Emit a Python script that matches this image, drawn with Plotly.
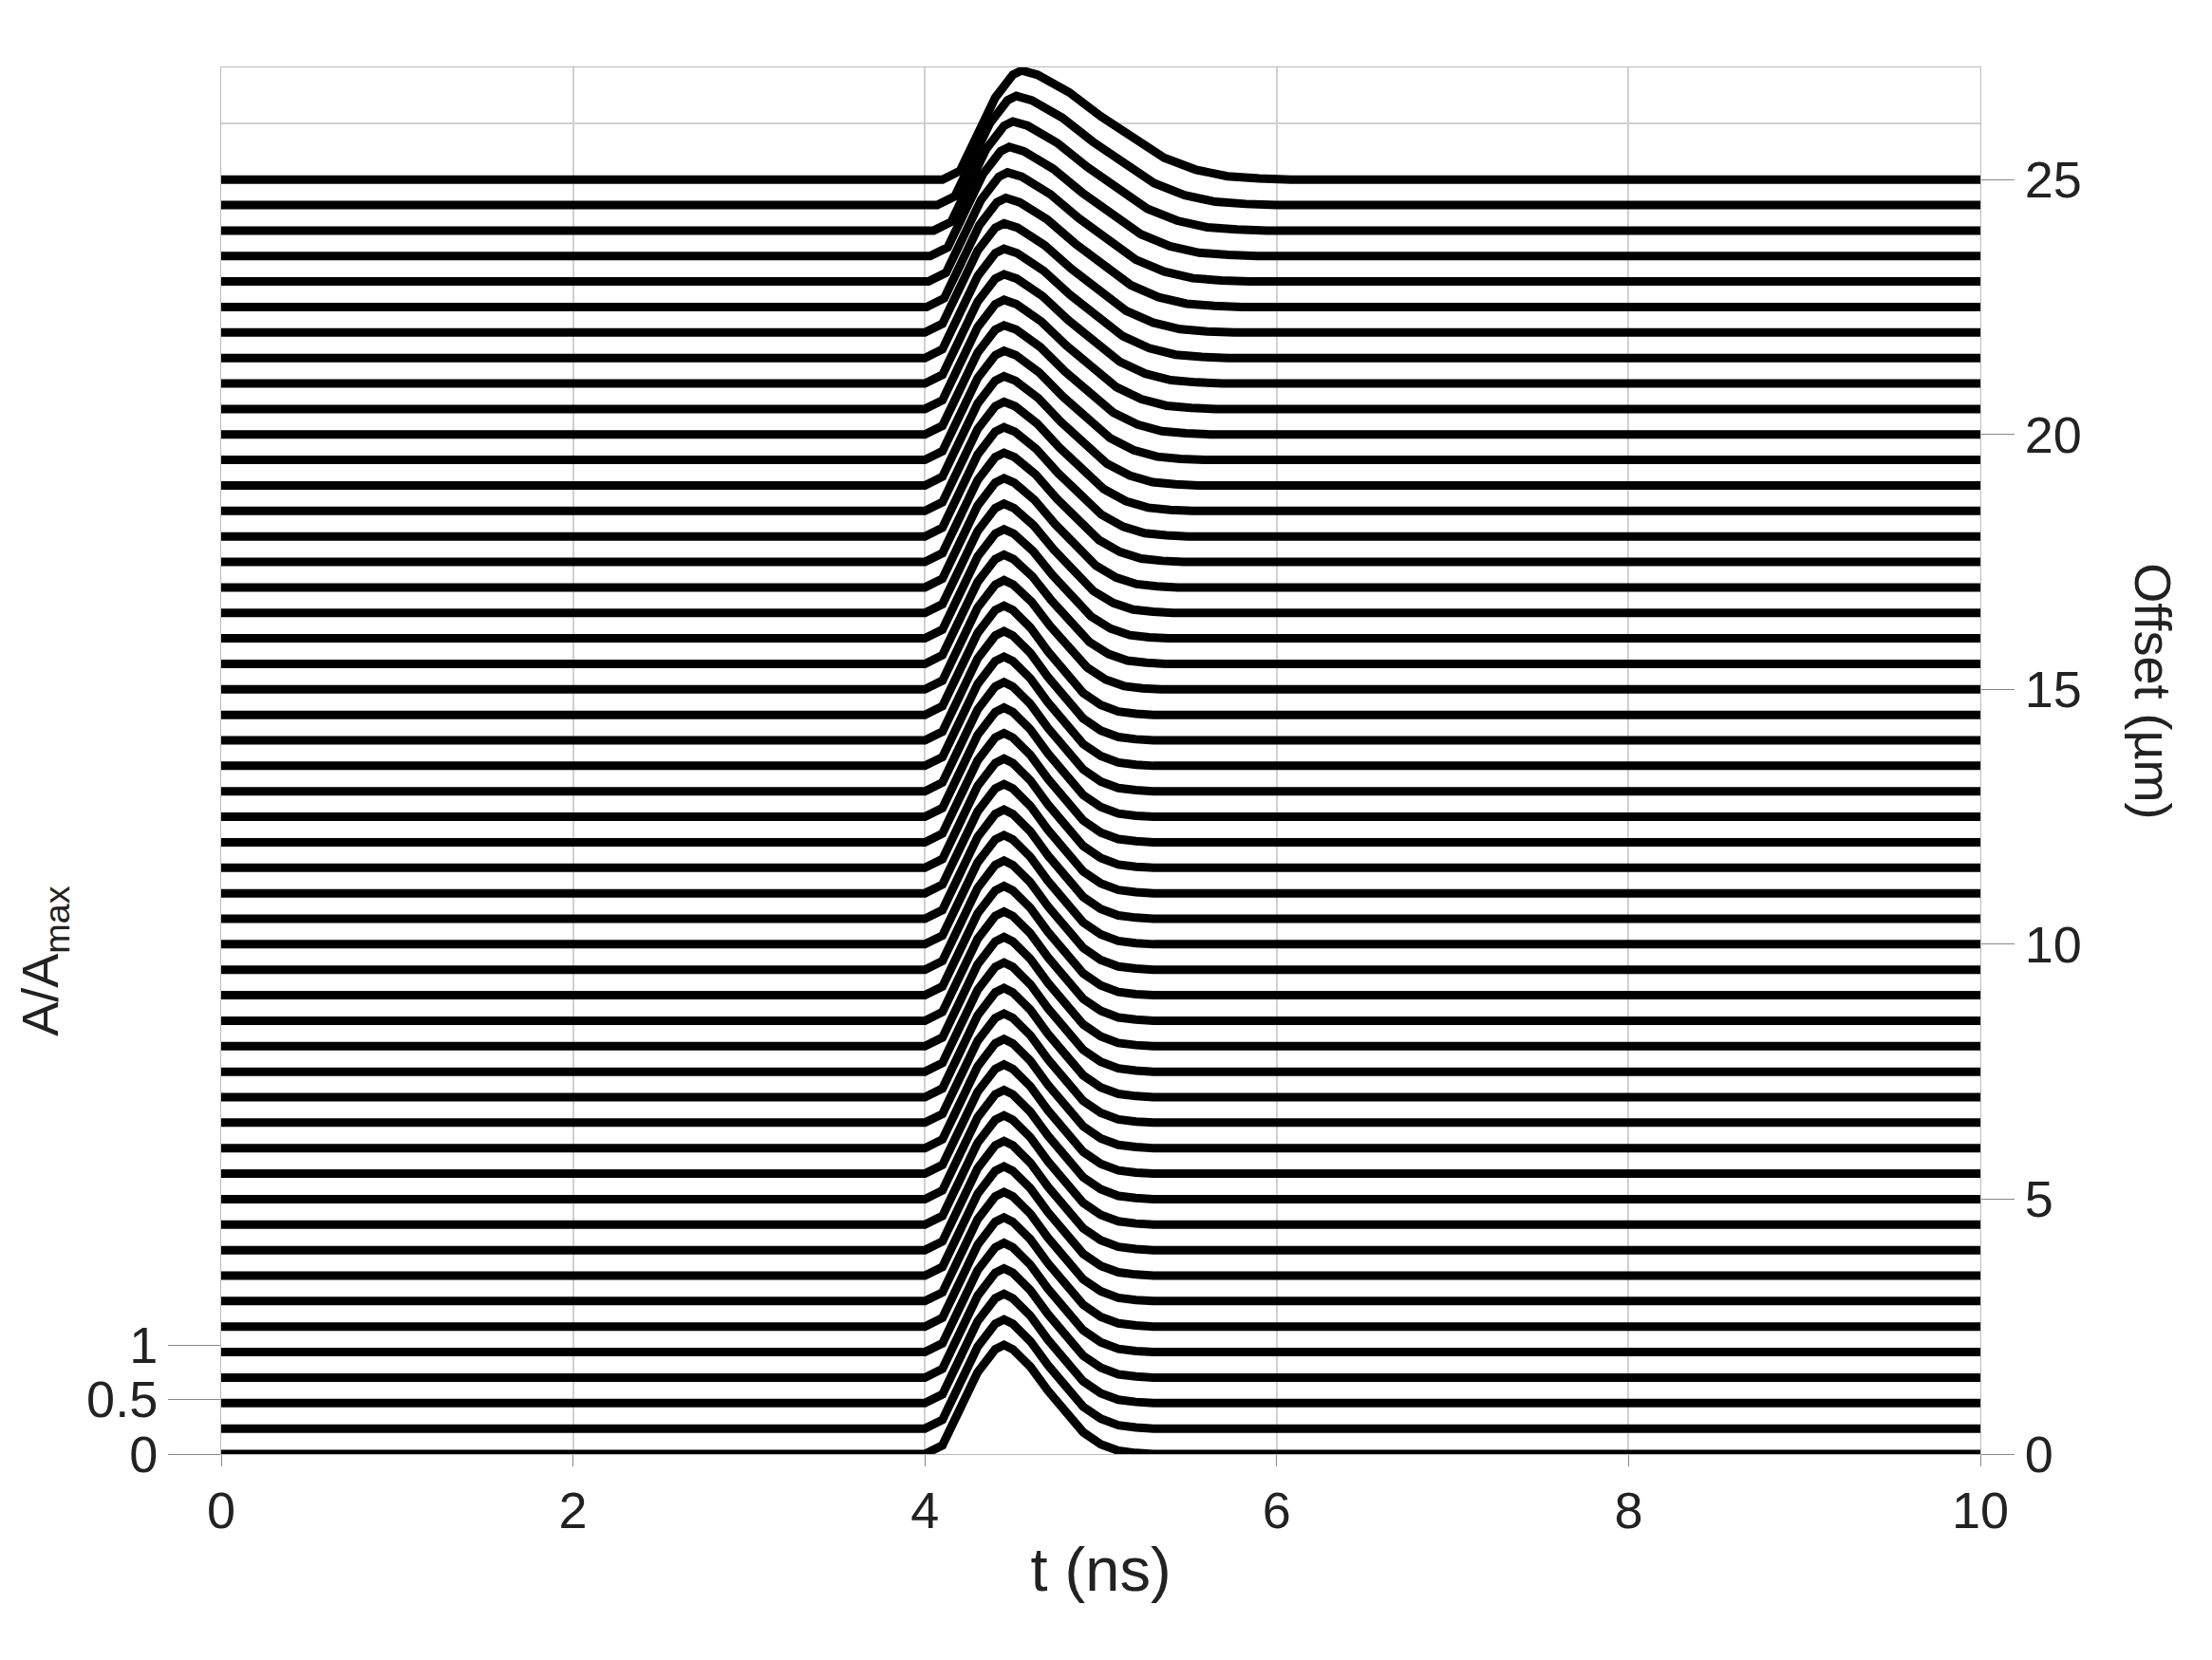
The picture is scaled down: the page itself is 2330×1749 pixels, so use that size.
import plotly.graph_objects as go

# typical pulse shape (t in ns, normalized amplitude)
pulse_t = [4.0, 4.1, 4.2, 4.3, 4.4, 4.45, 4.5, 4.6, 4.7, 4.8, 4.9, 5.0, 5.1, 5.2, 5.3]
pulse_a = [0.0, 0.08, 0.4, 0.75, 0.96, 1.0, 0.96, 0.8, 0.58, 0.38, 0.2, 0.09, 0.03, 0.01, 0.0]
offsets = [i * 0.5 for i in range(51)]
# per-trace tail stretch (longer decay towards top)
tail = [1.0]*30 + [1.05, 1.08, 1.1, 1.13, 1.16, 1.2, 1.23, 1.26, 1.3, 1.34, 1.38, 1.42,
                   1.46, 1.5, 1.54, 1.58, 1.62, 1.66, 1.7, 1.74, 1.8]
peak_t = [4.45]*45 + [4.46, 4.47, 4.48, 4.5, 4.52, 4.55]
amp_scale = 2.14  # µm per unit A/Amax
left_ticks = [0, 0.5, 1]
right_ticks = [0, 5, 10, 15, 20, 25]
x_ticks = [0, 2, 4, 6, 8, 10]

fig = go.Figure()
for off, st, pk in reversed(list(zip(offsets, tail, peak_t))):
    xs = [0.0]
    ys = [off]
    for t, a in zip(pulse_t, pulse_a):
        x = pk + (t - 4.45) * (st if t > 4.45 else 1.0)
        xs.append(x)
        ys.append(off + amp_scale * a)
    xs.append(10.0)
    ys.append(off)
    fig.add_trace(go.Scatter(x=xs, y=ys, mode="lines", fill="toself", fillcolor="white",
                             line=dict(color="black", width=9), showlegend=False,
                             hoverinfo="skip"))

font = dict(family="Liberation Sans, Arial", size=54, color="#222")
fig.update_layout(
    width=2330, height=1749, plot_bgcolor="white", paper_bgcolor="white",
    margin=dict(l=225, r=252, t=63, b=225), font=font,
    xaxis=dict(range=[0, 10], tickvals=x_ticks, showgrid=True, gridcolor="#d0d0d0", gridwidth=2,
               showline=True, linecolor="#bbb", mirror=True, zeroline=False,
               ticks="outside", ticklen=12, tickcolor="#888",
               title=dict(text="t (ns)", standoff=10)),
    yaxis=dict(range=[0, 27.2], tickvals=[v * amp_scale for v in left_ticks],
               ticktext=[str(v) for v in left_ticks], showgrid=False, zeroline=False,
               showline=True, linecolor="#bbb", ticks="outside", ticklen=55, tickcolor="#888"),
    yaxis2=dict(range=[0, 27.2], overlaying="y", side="right", tickvals=right_ticks,
                showgrid=False, zeroline=False, showline=True, linecolor="#bbb",
                ticks="outside", ticklen=35, tickcolor="#888"),
)
fig.add_trace(go.Scatter(x=[0], y=[0], yaxis="y2", mode="markers", marker=dict(opacity=0),
                         showlegend=False, hoverinfo="skip"))
fig.add_shape(type="line", xref="x", yref="y", x0=0, x1=10, y0=26.1, y1=26.1,
              line=dict(color="#d0d0d0", width=2), layer="below")
fig.add_annotation(text="A/A<sub>max</sub>", xref="paper", yref="paper", x=-0.12, y=0.3,
                   textangle=-90, showarrow=False, font=font)
fig.add_annotation(text="Offset (µm)", xref="paper", yref="paper", x=1.115, y=0.55,
                   textangle=90, showarrow=False, font=font)
fig.write_html("out.html")
